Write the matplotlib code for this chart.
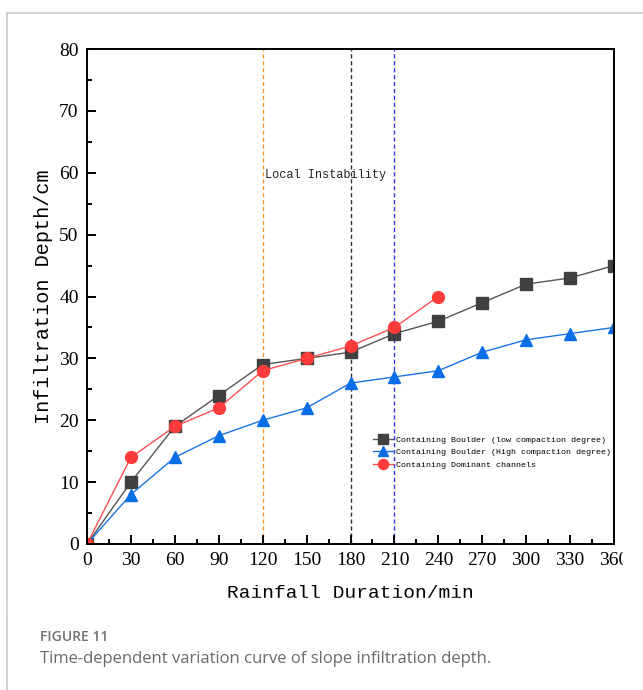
import matplotlib
matplotlib.use("Agg")
import matplotlib.pyplot as plt
from matplotlib.lines import Line2D
from matplotlib.patches import Rectangle
from matplotlib.ticker import MultipleLocator

# Datos
tiempo = [0, 30, 60, 90, 120, 150, 180, 210, 240, 270, 300, 330, 360]
baja_compactacion = [0, 10, 19, 24, 29, 30, 31, 34, 36, 39, 42, 43, 45]
alta_compactacion = [0, 8, 14, 17.5, 20, 22, 26, 27, 28, 31, 33, 34, 35]
tiempo_canales = [0, 30, 60, 90, 120, 150, 180, 210, 240]
canales_dominantes = [0, 14, 19, 22, 28, 30, 32, 35, 40]
lineas_verticales = [120, 180, 210]
etiquetas = ["Containing Boulder (low compaction degree)",
             "Containing Boulder (High compaction degree)",
             "Containing Dominant channels"]

W, H = 643, 690
fig = plt.figure(figsize=(W / 100, H / 100), dpi=100)
ax = fig.add_axes([87 / W, 1 - 544 / H, 527 / W, 495 / H])

ax.plot(tiempo, baja_compactacion, color="#555555", lw=1, marker="s", ms=8,
        mfc="#404040", mec="#404040", label=etiquetas[0])
ax.plot(tiempo, alta_compactacion, color="#1a73e8", lw=1, marker="^", ms=9,
        mfc="#0a6ee6", mec="#0a6ee6", label=etiquetas[1])
ax.plot(tiempo_canales, canales_dominantes, color="#ff5050", lw=1, marker="o", ms=8.5,
        mfc="#ff3b3b", mec="#ff3b3b", label=etiquetas[2])

# Lineas verticales
colores_v = ["#f5952a", "#333333", "#3535ee"]
for xv, c in zip(lineas_verticales, colores_v):
    ax.axvline(xv, color=c, lw=1, ls=(0, (3, 2)), zorder=1)

ax.text(121.5, 59.6, "Local Instability", family="Liberation Mono", fontsize=8.6,
        va="center", ha="left", color="#222222")

ax.set_xlim(0, 360)
ax.set_ylim(0, 80)
ax.xaxis.set_major_locator(MultipleLocator(30))
ax.xaxis.set_minor_locator(MultipleLocator(15))
ax.yaxis.set_major_locator(MultipleLocator(10))
ax.yaxis.set_minor_locator(MultipleLocator(5))
ax.tick_params(which="both", direction="in", width=1.4, top=False, right=False)
ax.tick_params(which="major", length=6.5, labelsize=14, pad=6)
ax.tick_params(which="minor", length=3.6)
for lab in ax.get_xticklabels() + ax.get_yticklabels():
    lab.set_family("Liberation Serif")
for s in ax.spines.values():
    s.set_linewidth(1.4)

ax.set_xlabel("Rainfall Duration/min", family="Liberation Mono", fontsize=14, labelpad=11)
ax.set_ylabel("Infiltration Depth/cm", family="Liberation Mono", fontsize=14.5, labelpad=4)

ax.legend(loc="upper left", bbox_to_anchor=(286 / 527, (544 - 436) / 495), frameon=False,
          prop={"family": "Liberation Mono", "size": 6}, handlelength=2.4, markerscale=0.85,
          handletextpad=0.4, labelspacing=0.55, borderpad=0, borderaxespad=0)

# Recorte de la imagen original (derecha y abajo)
fig.patches.append(Rectangle((623 / W, 1 - 612 / H), 20 / W, 580 / H,
                             transform=fig.transFigure, color="white", zorder=10))
fig.patches.append(Rectangle((8 / W, 1 - 615 / H), 635 / W, 17 / H,
                             transform=fig.transFigure, color="white", zorder=10))

# Marco de la pagina
fig.add_artist(Line2D([7 / W, 1], [1 - 13 / H, 1 - 13 / H], color="#c8c8c8", lw=1.2))
fig.add_artist(Line2D([7 / W, 7 / W], [0, 1 - 13 / H], color="#c8c8c8", lw=1.2))

fig.text(40 / W, 1 - 637 / H, "FIGURE 11", family="Open Sans", fontsize=10,
         fontweight="semibold", color="#707070", va="center")
fig.text(40 / W, 1 - 659 / H, "Time-dependent variation curve of slope infiltration depth.",
         family="Open Sans", fontsize=12, color="#6a6a6a", va="center")

fig.savefig("out.png", dpi=100)
